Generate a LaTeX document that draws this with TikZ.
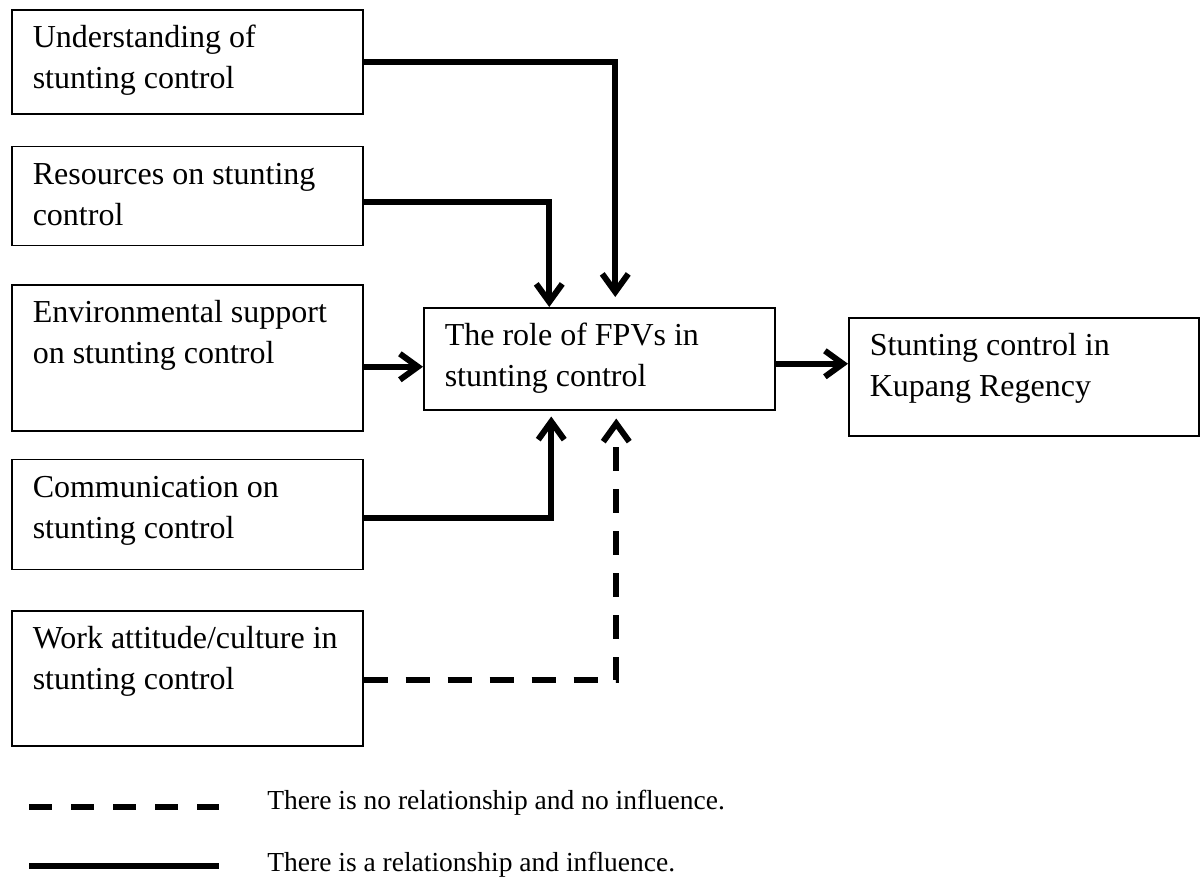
\documentclass[tikz,border=0pt]{standalone}
\usepackage{fontspec}
\setmainfont{Liberation Serif}
\usetikzlibrary{positioning,arrows.meta}

\tikzset{
  factor/.style={draw, line width=0.75pt, inner xsep=10.5pt, inner ysep=0pt},
  link/.style={line width=3pt, -{Straight Barb[length=9pt,width=13pt]}},
  nolink/.style={link, dash pattern=on 12pt off 9pt},
  legendtext/.style={inner sep=0pt, anchor=base west, font=\fontsize{13.75pt}{16pt}\selectfont}
}
\newcommand{\boxlines}[2]{\parbox[t][#1][t]{154.5pt}{\raggedright\vspace*{4.75pt}\strut #2}}

\begin{document}
\begin{tikzpicture}[x=0.5pt, y=-0.5pt, font=\fontsize{16pt}{20.5pt}\selectfont]
\useasboundingbox (0,0) rectangle (1203,880);

% factors on the left
\node (und) [factor, anchor=north west] at (11,9) {\boxlines{52pt}{Understanding of\\stunting control}};
\node (res) [factor, below=15.5pt of und] {\boxlines{49.5pt}{Resources on stunting\\control}};
\node (env) [factor, below=19pt of res] {\boxlines{73pt}{Environmental support\\on stunting control}};
\node (com) [factor, below=13.5pt of env] {\boxlines{55pt}{Communication on\\stunting control}};
\node (work) [factor, below=20pt of com] {\boxlines{67.5pt}{Work attitude/culture in\\stunting control}};

% role and outcome
\node (role) [factor, anchor=north west] at (423,307) {\boxlines{51pt}{The role of FPVs in\\stunting control}};
\node (goal) [factor, anchor=north west] at (848,317) {\parbox[t][59pt][t]{154pt}{\raggedright\vspace*{4.75pt}\strut Stunting control in\\Kupang Regency}};

\draw [link, shorten >=5pt] (und.east) -| ([xshift=8pt]role.north);
\draw [link] ([yshift=-3.25pt]res.east) -| ([xshift=-25pt]role.north);
\draw [link] ([yshift=-4.5pt]env.east) -- ([yshift=-4.5pt]env.east -| role.west);
\draw [link, shorten >=3pt] ([yshift=-2pt]com.east) -| ([xshift=-24pt]role.south);
\draw [nolink, shorten >=4pt] ([yshift=-0.75pt]work.east) -| ([xshift=8.5pt]role.south);
\draw [link] ([yshift=-2.5pt]role.east) -- ([yshift=-2.5pt]role.east -| goal.west);

% legend
\coordinate (dashA) at (29,807);
\coordinate (dashB) at (219,807);
\coordinate (lineA) at (29,866);
\coordinate (lineB) at (219,866);
\draw [line width=3pt, dash pattern=on 11.5pt off 9.5pt] (dashA) -- (dashB);
\draw [line width=3pt] (lineA) -- (lineB);
\node (dashtxt) [legendtext] at (267,809) {There is no relationship and no influence.};
\node (linetxt) [legendtext] at (267,871) {There is a relationship and influence.};

\end{tikzpicture}
\end{document}
